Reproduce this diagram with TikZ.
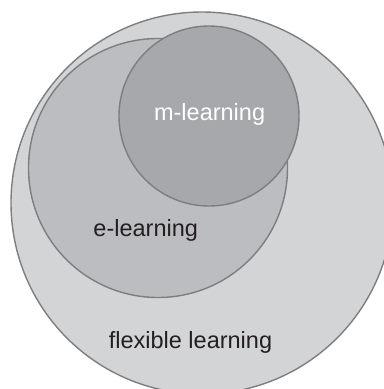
\documentclass[tikz,border=0pt]{standalone}
\usepackage{fontspec}
\setmainfont{Liberation Sans}
\definecolor{outerfill}{HTML}{D3D4D6}
\definecolor{midfill}{HTML}{BCBDC0}
\definecolor{innerfill}{HTML}{A7A8AB}
\definecolor{edgegray}{HTML}{7D7E80}
\definecolor{darktext}{HTML}{231F20}
\tikzset{
  setcircle/.style={circle, draw=edgegray, line width=1.4bp, inner sep=0pt, outer sep=0pt},
  setlabel/.style={anchor=base, inner sep=0pt, font=\fontsize{23.5bp}{28bp}\selectfont}
}
\begin{document}
\begin{tikzpicture}[x=1bp,y=-1bp]
\clip (0,0) rectangle (384,389);
\fill[white] (0,0) rectangle (384,389);
\node (flex) [setcircle, fill=outerfill, minimum size=382bp] at (202,203) {};
\node (elearn) [setcircle, fill=midfill, minimum size=259bp] at (158,168) {};
\node (mlearn) [setcircle, fill=innerfill, minimum size=180bp] at (209,116) {};
\node (mtext) [setlabel, text=white] at (209.6,120) {m-learning};
\node (etext) [setlabel, text=darktext] at (145.7,236.5) {e-learning};
\node (ftext) [setlabel, text=darktext] at (190.5,348.5) {flexible learning};
\end{tikzpicture}
\end{document}
